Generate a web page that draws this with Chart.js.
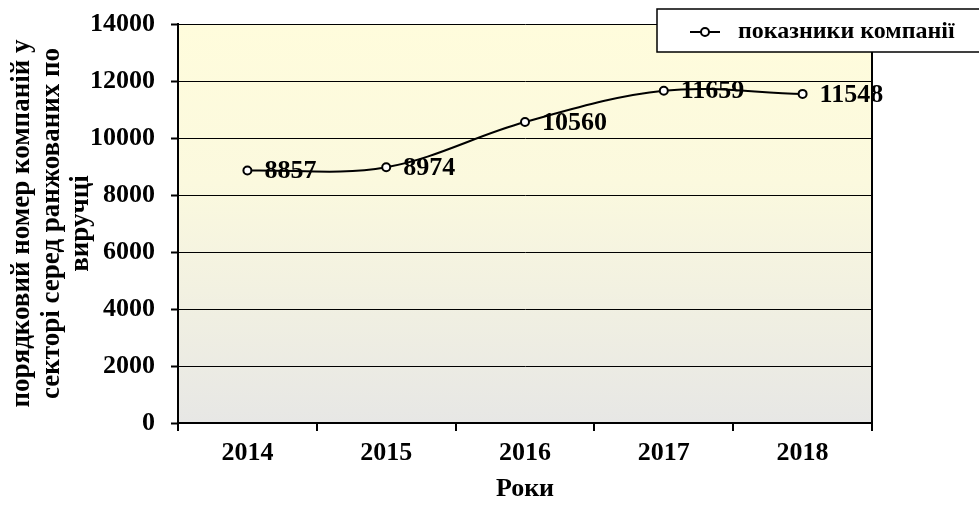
<!DOCTYPE html>
<html><head><meta charset="utf-8">
<script src="https://cdn.jsdelivr.net/npm/chart.js@4.4.1/dist/chart.umd.min.js"></script>
<style>html,body{margin:0;padding:0;background:#fff;}canvas{display:block}</style>
</head><body>
<canvas id="c" width="979" height="508"></canvas>
<script>
const categories = ['2014', '2015', '2016', '2017', '2018'];
const values = [8857, 8974, 10560, 11659, 11548];
const seriesName = 'показники компанії';
const yTitle = ['порядковий номер компаній у', 'секторі серед ранжованих по', 'виручці'];
const xTitle = 'Роки';
const yMin = 0, yMax = 14000, yStep = 2000;

const FONT = "'Liberation Serif','Times New Roman',serif";

const bgPlugin = {
  id: 'bg',
  beforeDraw(chart) {
    const {ctx, chartArea: a} = chart;
    ctx.save();
    ctx.fillStyle = '#ffffff';
    ctx.fillRect(0, 0, chart.width, chart.height);
    const g = ctx.createLinearGradient(0, a.top, 0, a.bottom);
    g.addColorStop(0, '#fffcdc');
    g.addColorStop(0.4, '#fbf9de');
    g.addColorStop(1, '#e7e7e5');
    ctx.fillStyle = g;
    ctx.fillRect(a.left, a.top, a.right - a.left, a.bottom - a.top);
    ctx.restore();
  }
};

const labelPlugin = {
  id: 'labels',
  afterDatasetsDraw(chart) {
    const {ctx, chartArea: a} = chart;
    ctx.save();
    ctx.strokeStyle = '#000';
    ctx.lineWidth = 2;
    ctx.beginPath();
    ctx.moveTo(a.right, a.top);
    ctx.lineTo(a.right, a.bottom);
    ctx.stroke();
    const meta = chart.getDatasetMeta(0);
    ctx.font = 'bold 26px ' + FONT;
    ctx.fillStyle = '#000';
    ctx.textAlign = 'left';
    ctx.textBaseline = 'middle';
    meta.data.forEach((pt, i) => {
      ctx.fillText(String(values[i]), pt.x + 17, pt.y + 1);
    });
    ctx.restore();
  },
  afterDraw(chart) {
    const ctx = chart.ctx;
    ctx.save();
    ctx.fillStyle = '#fff';
    ctx.strokeStyle = '#000';
    ctx.lineWidth = 1.5;
    ctx.fillRect(657, 9, 340, 43);
    ctx.strokeRect(657, 9, 340, 43);
    ctx.lineWidth = 2;
    ctx.beginPath();
    ctx.moveTo(690, 32);
    ctx.lineTo(720, 32);
    ctx.stroke();
    ctx.beginPath();
    ctx.arc(705, 32, 4, 0, Math.PI * 2);
    ctx.fillStyle = '#fff';
    ctx.fill();
    ctx.stroke();
    ctx.fillStyle = '#000';
    ctx.font = 'bold 24px ' + FONT;
    ctx.textAlign = 'left';
    ctx.textBaseline = 'middle';
    ctx.fillText(seriesName, 738, 32);
    ctx.restore();
  }
};

new Chart(document.getElementById('c'), {
  type: 'line',
  data: {
    labels: categories,
    datasets: [{
      label: seriesName,
      data: values,
      borderColor: '#000',
      borderWidth: 2,
      tension: 0.35,
      pointRadius: 4,
      pointBorderWidth: 2,
      pointBackgroundColor: '#fff',
      pointBorderColor: '#000',
      fill: false
    }]
  },
  options: {
    responsive: false,
    devicePixelRatio: 1,
    animation: false,
    layout: {padding: {left: 0, right: 107, top: 24, bottom: 0}},
    plugins: {legend: {display: false}, tooltip: {enabled: false}},
    scales: {
      x: {
        offset: true,
        grid: {drawOnChartArea: false, offset: true, color: '#000', tickLength: 8, lineWidth: 2},
        border: {display: true, color: '#000', width: 2},
        ticks: {color: '#000', font: {family: FONT, size: 26, weight: 'bold'}, padding: 7, maxRotation: 0},
        title: {display: true, text: xTitle, color: '#000', font: {family: FONT, size: 26, weight: 'bold'}, padding: {top: 0, bottom: 3}},
        afterFit(s) { s.height = 85; }
      },
      y: {
        min: yMin, max: yMax,
        grid: {color: '#000', lineWidth: 1, tickLength: 7, tickWidth: 2, tickColor: '#000'},
        border: {display: true, color: '#000', width: 2},
        ticks: {stepSize: yStep, color: '#000', font: {family: FONT, size: 26, weight: 'bold'}, padding: 16, callback: v => String(v)},
        title: {display: true, text: yTitle, color: '#000', font: {family: FONT, size: 27, weight: 'bold', lineHeight: 1.1}, padding: {top: 7, bottom: 0}},
        afterFit(s) { s.width = 178; s.paddingTop = 10; s.paddingBottom = 10; }
      }
    }
  },
  plugins: [bgPlugin, labelPlugin]
});
</script>
</body></html>
